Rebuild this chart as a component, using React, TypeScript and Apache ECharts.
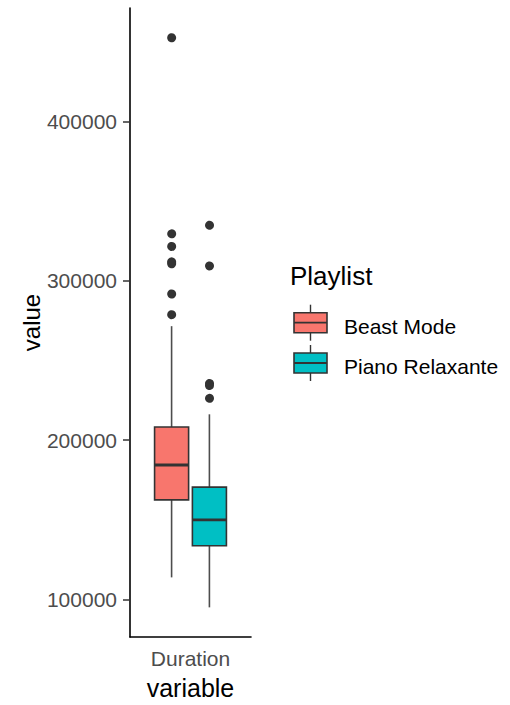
import React, { useEffect, useRef } from 'react';
import * as echarts from 'echarts';

const categories = ['Duration'];
const playlists = ['Beast Mode', 'Piano Relaxante'];
const colors = ['#F8766D', '#00BFC4'];
// [lower whisker, Q1, median, Q3, upper whisker]
const beastModeBox = [113900, 162500, 184400, 208200, 271500];
const pianoRelaxanteBox = [95100, 133700, 150000, 170500, 216200];
const beastModeOutliers = [452900, 330000, 322000, 312300, 311100, 292200, 279200];
const pianoRelaxanteOutliers = [335400, 309900, 236200, 234700, 226800];
const yTicks = [100000, 200000, 300000, 400000];
const yMin = 76500;
const yMax = 471100;

const boxes = [beastModeBox, pianoRelaxanteBox];
const outliers = [beastModeOutliers, pianoRelaxanteOutliers];
const dodge = [-0.15625, 0.15625];
const boxFrac = 0.28125;

export default function App() {
  const ref = useRef<HTMLDivElement>(null);
  useEffect(() => {
    if (!ref.current) return;
    const chart = echarts.init(ref.current, null, { renderer: 'svg' });

    const boxSeries = playlists.map((name, s) => ({
      type: 'custom',
      name,
      data: [[0, ...boxes[s]]],
      encode: { x: 0, y: [1, 2, 3, 4, 5] },
      renderItem: (params: any, api: any) => {
        const xi = api.value(0);
        const band = api.size([1, 0])[0];
        const base = api.coord([xi, api.value(3)]);
        const cx = base[0] + dodge[s] * band;
        const w = boxFrac * band;
        const y = (k: number) => api.coord([xi, api.value(k)])[1];
        const yLo = y(1), yQ1 = y(2), yMed = y(3), yQ3 = y(4), yHi = y(5);
        return {
          type: 'group',
          children: [
            { type: 'line', shape: { x1: cx, y1: yQ3, x2: cx, y2: yHi }, style: { stroke: '#4D4D4D', lineWidth: 1.6 } },
            { type: 'line', shape: { x1: cx, y1: yQ1, x2: cx, y2: yLo }, style: { stroke: '#4D4D4D', lineWidth: 1.6 } },
            { type: 'rect', shape: { x: cx - w / 2, y: yQ3, width: w, height: yQ1 - yQ3 }, style: { fill: colors[s], stroke: '#333', lineWidth: 1.6 } },
            { type: 'line', shape: { x1: cx - w / 2, y1: yMed, x2: cx + w / 2, y2: yMed }, style: { stroke: '#333', lineWidth: 2.8 } },
          ],
        };
      },
      z: 2,
    }));

    const outlierSeries = playlists.map((name, s) => ({
      type: 'custom',
      name: name + ' outliers',
      data: outliers[s].map((v) => [0, v]),
      encode: { x: 0, y: 1 },
      renderItem: (params: any, api: any) => {
        const xi = api.value(0);
        const band = api.size([1, 0])[0];
        const p = api.coord([xi, api.value(1)]);
        return {
          type: 'circle',
          shape: { cx: p[0] + dodge[s] * band, cy: p[1], r: 4.5 },
          style: { fill: '#333333' },
        };
      },
      z: 3,
    }));

    const legendChildren: any[] = [
      { type: 'text', x: 290, y: 276, style: { text: 'Playlist', fontSize: 26, fontFamily: 'Liberation Sans, Arial, sans-serif', fill: '#000', verticalAlign: 'middle', align: 'left' } },
    ];
    playlists.forEach((name, i) => {
      const cy = 322.7 + 40.3 * i;
      legendChildren.push(
        { type: 'line', shape: { x1: 310.5, y1: cy - 18, x2: 310.5, y2: cy - 10 }, style: { stroke: '#333', lineWidth: 1.4 } },
        { type: 'line', shape: { x1: 310.5, y1: cy + 10, x2: 310.5, y2: cy + 18 }, style: { stroke: '#333', lineWidth: 1.4 } },
        { type: 'rect', shape: { x: 294, y: cy - 10, width: 33, height: 20 }, style: { fill: colors[i], stroke: '#333', lineWidth: 1.6 } },
        { type: 'line', shape: { x1: 294, y1: cy, x2: 327, y2: cy }, style: { stroke: '#333', lineWidth: 1.8 } },
        { type: 'text', x: 344, y: cy + 3.3, style: { text: name, fontSize: 21, fontFamily: 'Liberation Sans, Arial, sans-serif', fill: '#000', verticalAlign: 'middle', align: 'left' } },
      );
    });

    chart.setOption({
      animation: false,
      backgroundColor: '#ffffff',
      textStyle: { fontFamily: 'Liberation Sans, Arial, sans-serif' },
      grid: { left: 130, top: 8, width: 121, height: 630, containLabel: false },
      xAxis: {
        type: 'category',
        data: categories,
        boundaryGap: true,
        name: 'variable',
        nameLocation: 'middle',
        nameGap: 38,
        nameTextStyle: { fontSize: 25, color: '#000' },
        axisLine: { lineStyle: { color: '#000', width: 1.6 } },
        axisTick: { alignWithLabel: true, length: 7, lineStyle: { color: '#333', width: 1.5 } },
        axisLabel: { fontSize: 21, color: '#4D4D4D', margin: 11 },
        splitLine: { show: false },
      },
      yAxis: {
        type: 'value',
        min: yMin,
        max: yMax,
        name: 'value',
        nameLocation: 'middle',
        nameGap: 85,
        nameRotate: 90,
        nameTextStyle: { fontSize: 24, color: '#000' },
        axisLine: { show: true, lineStyle: { color: '#000', width: 1.6 } },
        axisTick: { show: true, length: 7, customValues: yTicks, lineStyle: { color: '#333', width: 1.5 } },
        axisLabel: { fontSize: 21, color: '#4D4D4D', margin: 13, customValues: yTicks, formatter: (v: number) => String(v) },
        splitLine: { show: false },
      },
      graphic: [{ type: 'group', children: legendChildren }],
      series: [...boxSeries, ...outlierSeries],
    });
    return () => chart.dispose();
  }, []);
  return <div ref={ref} style={{ position: 'fixed', left: 0, top: 0, width: 510, height: 705, background: '#fff' }} />;
}
